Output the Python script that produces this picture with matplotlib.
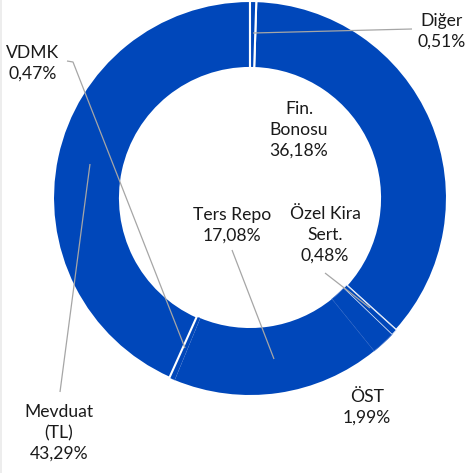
import matplotlib
matplotlib.use("Agg")
import matplotlib.pyplot as plt
from matplotlib.patches import Rectangle

categories = ["Diğer", "Fin. Bonosu", "Özel Kira Sert.", "ÖST", "Ters Repo", "VDMK", "Mevduat (TL)"]
values = [0.51, 36.18, 0.48, 1.99, 17.08, 0.47, 43.29]
label_texts = ["Diğer\n0,51%", "Fin.\nBonosu\n36,18%", "Özel Kira\nSert.\n0,48%", "ÖST\n1,99%",
               "Ters Repo\n17,08%", "VDMK\n0,47%", "Mevduat\n(TL)\n43,29%"]

W, H = 466, 473
CX, CY, R = 250, 198, 197
BLUE = "#0047BA"

fig = plt.figure(figsize=(W / 100, H / 100), dpi=100)
fig.patches.append(Rectangle((0, 0), 2.2 / W, 1, transform=fig.transFigure,
                             facecolor="#EDEDED", edgecolor="none"))
ax = fig.add_axes([0, 0, 1, 1])

def px(x, y):
    return ((x - CX) / R, (CY - y) / R)

wedges, _ = ax.pie(values, startangle=90, counterclock=False, radius=1,
                   colors=[BLUE] * len(values),
                   wedgeprops=dict(width=0.34, linewidth=0, edgecolor=BLUE))
# separators as seen in the reference
wedges[0].set_edgecolor("white"); wedges[0].set_linewidth(1.5); wedges[0].set_zorder(3)
wedges[1].set_edgecolor("white"); wedges[1].set_linewidth(1.5); wedges[1].set_zorder(2)
wedges[6].set_edgecolor("white"); wedges[6].set_linewidth(1.5); wedges[6].set_zorder(2)
wedges[2].set_edgecolor("#dfe8f8"); wedges[2].set_linewidth(0.5); wedges[2].set_zorder(2.5)
wedges[3].set_edgecolor("#3a6cc8"); wedges[3].set_linewidth(0.5)
wedges[5].set_edgecolor("#3a6cc8"); wedges[5].set_linewidth(0.5); wedges[5].set_linestyle(":")

ax.set_aspect("auto")
ax.set_xlim(-CX / R, (W - CX) / R)
ax.set_ylim(-(H - CY) / R, CY / R)
ax.axis("off")

font = dict(family=["Lato", "DejaVu Sans"], fontsize=12.6, color="#1a1a1a", linespacing=1.38)

# label positions (center x, center y in px)
label_pos = [(442, 31), (299, 130), (325, 235), (367, 407),
             (232, 225), (33, 63), (59, 433)]
for txt, (x, y) in zip(label_texts, label_pos):
    ax.text(*px(x, y), txt, ha="center", va="center", zorder=5, **font)

# leader lines
leaders = [
    [(412, 29), (253, 33)],
    [(67, 61), (73, 62), (185, 348)],
    [(60, 392), (90, 164)],
    [(232, 250), (274, 359)],
    [(325, 273), (370, 308)],
]
for pts in leaders:
    xs, ys = zip(*[px(x, y) for x, y in pts])
    ax.plot(xs, ys, color="#A6A6A6", lw=0.9, zorder=4, solid_capstyle="butt")

fig.savefig("out.png", dpi=100)
